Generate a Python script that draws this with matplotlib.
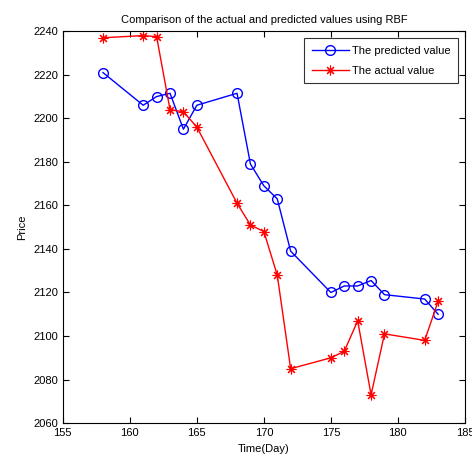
import matplotlib
matplotlib.use("Agg")
import matplotlib.pyplot as plt

plt.rcParams['font.family'] = ['Liberation Sans', 'DejaVu Sans']

days = [158, 161, 162, 163, 164, 165, 168, 169, 170, 171, 172, 175, 176, 177, 178, 179, 182, 183]
predicted = [2221, 2206, 2210, 2211.5, 2195, 2206, 2211.5, 2179, 2169, 2163, 2139,
             2120, 2123, 2123, 2125.5, 2119, 2117, 2110]
actual = [2237, 2238, 2237.5, 2204, 2203, 2196, 2161, 2151, 2148, 2128, 2085,
          2090, 2093, 2107, 2073, 2101, 2098, 2116]

fig = plt.figure(figsize=(4.72, 4.66), dpi=100)
ax = fig.add_axes([0.133, 0.092, 0.852, 0.841])

ax.plot(days, predicted, color="b", marker="o", markerfacecolor="none",
        markersize=7, linewidth=1, label="The predicted value")
ax.plot(days, actual, color="r", marker=(8, 2, 0), markersize=7,
        markeredgewidth=0.8, linewidth=1, label="The actual value")

ax.set_xlim(155, 185)
ax.set_ylim(2060, 2240)
ax.set_xticks(range(155, 186, 5))
ax.set_yticks(range(2060, 2241, 20))
ax.tick_params(direction="in", labelsize=8, length=4, top=True, right=True)
ax.set_title("Comparison of the actual and predicted values using RBF", fontsize=8)
ax.set_xlabel("Time(Day)", fontsize=8)
ax.set_ylabel("Price", fontsize=8)

leg = ax.legend(loc="upper right", fontsize=8, fancybox=False, edgecolor="k",
                borderaxespad=0.6, handlelength=3.3, handletextpad=0.3,
                labelspacing=0.9, borderpad=0.7)
leg.get_frame().set_linewidth(0.8)

fig.savefig("out.png", dpi=100)
